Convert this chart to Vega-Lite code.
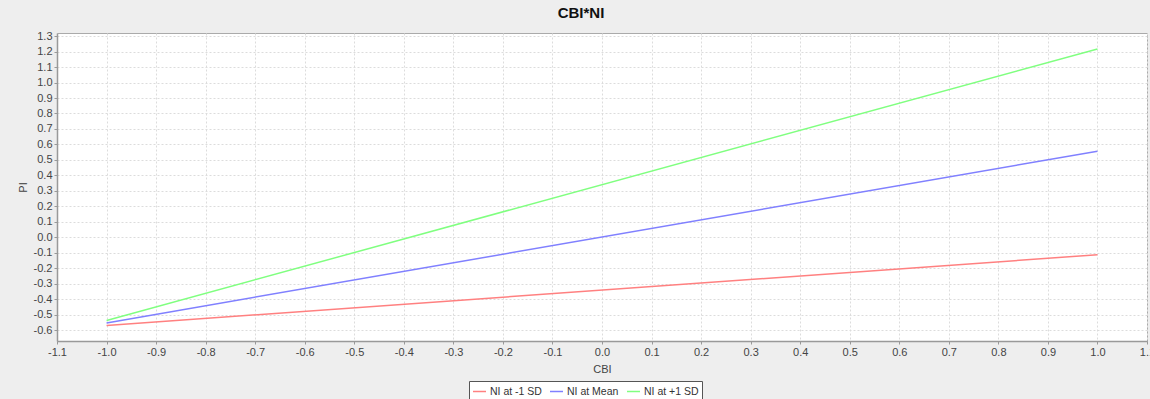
{
  "$schema": "https://vega.github.io/schema/vega-lite/v6.json",
  "autosize": {"type": "none"},
  "width": 1090,
  "height": 308,
  "padding": {"left": 57, "top": 33, "right": 3, "bottom": 58},
  "background": "#eeeeee",
  "config": {
    "locale": {
      "number": {"decimal": ".", "thousands": ",", "grouping": [3], "currency": ["$", ""], "minus": "-"}
    },
    "font": "Liberation Sans",
    "view": {"fill": "white", "stroke": "#aaaaaa", "strokeWidth": 1},
    "axis": {
      "labelFont": "Liberation Sans",
      "labelFontSize": 11,
      "labelColor": "#444444",
      "titleFont": "Liberation Sans",
      "titleFontSize": 11,
      "titleFontWeight": "normal",
      "titleColor": "#444444",
      "domainColor": "#999999",
      "domainWidth": 1.5,
      "tickColor": "#999999",
      "tickSize": 3,
      "labelPadding": 2,
      "gridColor": "#dcdcdc",
      "gridDash": [2, 2],
      "gridWidth": 1
    }
  },
  "title": {
    "text": "CBI*NI",
    "font": "Liberation Sans",
    "fontSize": 15,
    "fontWeight": "bold",
    "color": "#111111",
    "offset": 9,
    "dx": -21
  },
  "data": {
    "values": [
      {"CBI": -1.0, "PI": -0.570, "series": "NI at -1 SD"},
      {"CBI": 1.0, "PI": -0.113, "series": "NI at -1 SD"},
      {"CBI": -1.0, "PI": -0.553, "series": "NI at Mean"},
      {"CBI": 1.0, "PI": 0.556, "series": "NI at Mean"},
      {"CBI": -1.0, "PI": -0.537, "series": "NI at +1 SD"},
      {"CBI": 1.0, "PI": 1.217, "series": "NI at +1 SD"}
    ]
  },
  "mark": {"type": "line", "strokeWidth": 1.5, "clip": true},
  "encoding": {
    "x": {
      "field": "CBI",
      "type": "quantitative",
      "title": "CBI",
      "scale": {"domain": [-1.1, 1.1], "nice": false, "zero": false},
      "axis": {
        "values": [-1.1, -1.0, -0.9, -0.8, -0.7, -0.6, -0.5, -0.4, -0.3, -0.2, -0.1, 0.0, 0.1, 0.2, 0.3, 0.4, 0.5, 0.6, 0.7, 0.8, 0.9, 1.0, 1.1],
        "format": ".1f",
        "labelFlush": false,
        "labelOverlap": false,
        "titlePadding": 6
      }
    },
    "y": {
      "field": "PI",
      "type": "quantitative",
      "title": "PI",
      "scale": {"domain": [-0.67, 1.32], "nice": false, "zero": false},
      "axis": {
        "values": [-0.6, -0.5, -0.4, -0.3, -0.2, -0.1, 0.0, 0.1, 0.2, 0.3, 0.4, 0.5, 0.6, 0.7, 0.8, 0.9, 1.0, 1.1, 1.2, 1.3],
        "format": ".1f",
        "labelFlush": false,
        "labelOverlap": false,
        "titlePadding": 5
      }
    },
    "color": {
      "field": "series",
      "type": "nominal",
      "sort": ["NI at -1 SD", "NI at Mean", "NI at +1 SD"],
      "scale": {
        "domain": ["NI at -1 SD", "NI at Mean", "NI at +1 SD"],
        "range": ["#ff8080", "#8080ff", "#80ff80"]
      },
      "legend": {
        "title": null,
        "orient": "none",
        "direction": "horizontal",
        "legendX": 412,
        "legendY": 348,
        "symbolType": "stroke",
        "symbolSize": 170,
        "symbolStrokeWidth": 1.5,
        "labelFont": "Liberation Sans",
        "labelFontSize": 10.5,
        "labelColor": "#333333",
        "fillColor": "white",
        "strokeColor": "#555555",
        "padding": 3,
        "columnPadding": 4,
        "labelOffset": 3
      }
    }
  }
}
